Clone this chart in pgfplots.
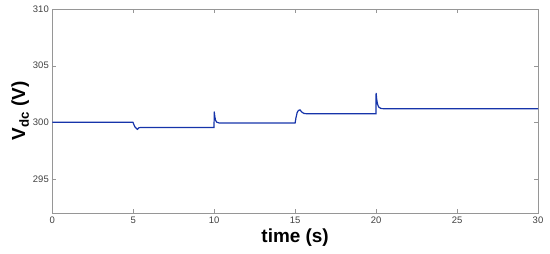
\documentclass[border=0pt]{standalone}
\usepackage{fontspec}
\setmainfont{Liberation Sans}
\usepackage{pgfplots}
\pgfplotsset{compat=1.18}
\definecolor{vline}{RGB}{22,52,170}
\definecolor{axgray}{RGB}{150,150,150}
\begin{document}
\begin{tikzpicture}[x=1bp,y=1bp]
\useasboundingbox (-52.3,-40) rectangle (497.7,213);
\begin{axis}[
    at={(0,0)}, anchor=south west,
    scale only axis,
    width=485.7bp, height=204bp,
    xmin=0, xmax=30, ymin=292, ymax=310,
    xtick={0,5,...,30}, ytick={295,300,305,310},
    axis line style={axgray},
    tick style={axgray, major tick length=4bp},
    tick align=inside,
    ticklabel style={font=\fontsize{9.5}{10}\selectfont, text=black!75},
    /pgf/number format/assume math mode=true,
    xlabel={\bfseries time (s)},
    xlabel style={font=\fontsize{19}{20}\selectfont, yshift=1bp},
    ylabel={\bfseries V\textsubscript{dc} (V)},
    ylabel style={font=\fontsize{19}{20}\selectfont, yshift=-3bp},
]
\addplot[vline, line width=1.2pt] coordinates {
    (0,300.0) (4.98,300.0) (5.1,299.6) (5.25,299.38) (5.36,299.53) (5.6,299.55)
    (9.99,299.55) (10.0,300.95) (10.04,300.5) (10.08,300.2) (10.15,300.02) (10.3,299.95)
    (15.0,299.95) (15.05,300.4) (15.12,300.85) (15.2,301.05) (15.3,301.1) (15.4,300.92)
    (15.55,300.78) (15.8,300.75)
    (19.99,300.75) (20.0,302.6) (20.04,302.0) (20.09,301.6) (20.16,301.35) (20.3,301.22) (20.5,301.2)
    (30,301.2)
};
\end{axis}
\end{tikzpicture}
\end{document}
